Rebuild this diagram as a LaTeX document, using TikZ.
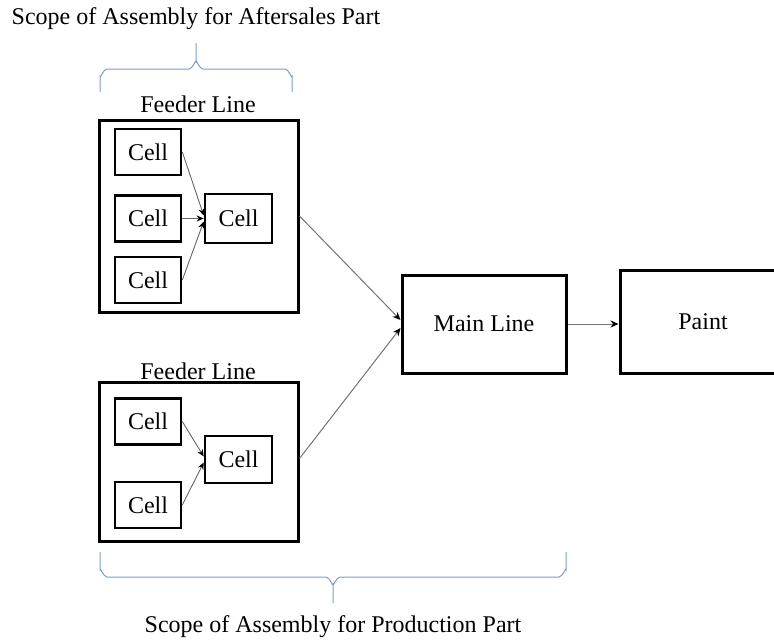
\documentclass[tikz,border=0pt]{standalone}
\usepackage{fontspec}
\setmainfont{Liberation Serif}
\usetikzlibrary{arrows.meta}
\definecolor{bracecol}{RGB}{120,155,215}
\begin{document}
\begin{tikzpicture}[x=1pt,y=-1pt,
  every node/.style={font=\fontsize{24}{28}\selectfont, inner sep=0pt},
  box/.style={draw, line width=3pt, minimum width=#1, anchor=center},
  cellbox/.style={draw, line width=2.6pt, minimum width=66pt, minimum height=46pt},
  flow/.style={draw=black!60, line width=0.9pt, -{Stealth[length=7pt,width=6pt,color=black]}},
  bigflow/.style={draw=black!55, line width=1pt, -{Stealth[length=8pt,width=7pt,color=black]}},
  bracepath/.style={draw=bracecol, line width=1pt}]
\useasboundingbox (0,0) rectangle (774,640);
\clip (0,0) rectangle (774,640);

% labels
\node (topscope) at (196,19) {Scope of Assembly for Aftersales Part};
\node (botscope) at (333,627) {Scope of Assembly for Production Part};
\node (fl1) at (198,104) {Feeder Line};
\node (fl2) at (198,371) {Feeder Line};

% feeder boxes
\node[box=199pt, minimum height=192pt] (feed1) at (198.5,216) {};
\node[box=199pt, minimum height=159pt] (feed2) at (198.5,461.5) {};

% cells top
\node[cellbox] (c1) at (148,152) {Cell};
\node[cellbox] (c2) at (148,218.5) {Cell};
\node[cellbox] (c3) at (148,280) {Cell};
\node[cellbox, minimum width=67pt, minimum height=49pt] (c4) at (238.5,218.5) {Cell};

% cells bottom
\node[cellbox] (d1) at (148,421.5) {Cell};
\node[cellbox] (d2) at (148,505) {Cell};
\node[cellbox, minimum width=67pt, minimum height=47pt] (d3) at (238.5,459.5) {Cell};

% main and paint
\node[box=164pt, minimum height=98pt] (main) at (484,324) {Main Line};
\node[box=166pt, minimum height=103pt] (paint) at (703,322) {Paint};

% connectors
\draw[flow] (c1.east) -- ([yshift=3pt]c4.west);
\draw[flow] (c2.east) -- (c4.west);
\draw[flow] (c3.east) -- ([yshift=-3pt]c4.west);
\draw[flow] (d1.east) -- ([yshift=3pt]d3.west);
\draw[flow] (d2.east) -- ([yshift=-3pt]d3.west);
\draw[bigflow] (feed1.east) -- ([yshift=4pt]main.west);
\draw[bigflow] ([yshift=3pt]feed2.east) -- ([yshift=-4pt]main.west);
\draw[bigflow] (main.east) -- (main.east -| paint.west);

% braces
\draw[bracepath] (100,92) -- (100,76) to[out=-90,in=180] (107,69) -- (189,69)
  to[out=0,in=90] (196,62) -- (196,43);
\draw[bracepath] (196,62) to[out=90,in=180] (203,69) -- (285,69)
  to[out=0,in=-90] (292,76) -- (292,92);
\draw[bracepath] (100,552) -- (100,570) to[out=90,in=180] (107,577) -- (326,577)
  to[out=0,in=-90] (333,584) -- (333,603);
\draw[bracepath] (333,584) to[out=-90,in=180] (340,577) -- (559,577)
  to[out=0,in=90] (566,570) -- (566,552);
\end{tikzpicture}
\end{document}
